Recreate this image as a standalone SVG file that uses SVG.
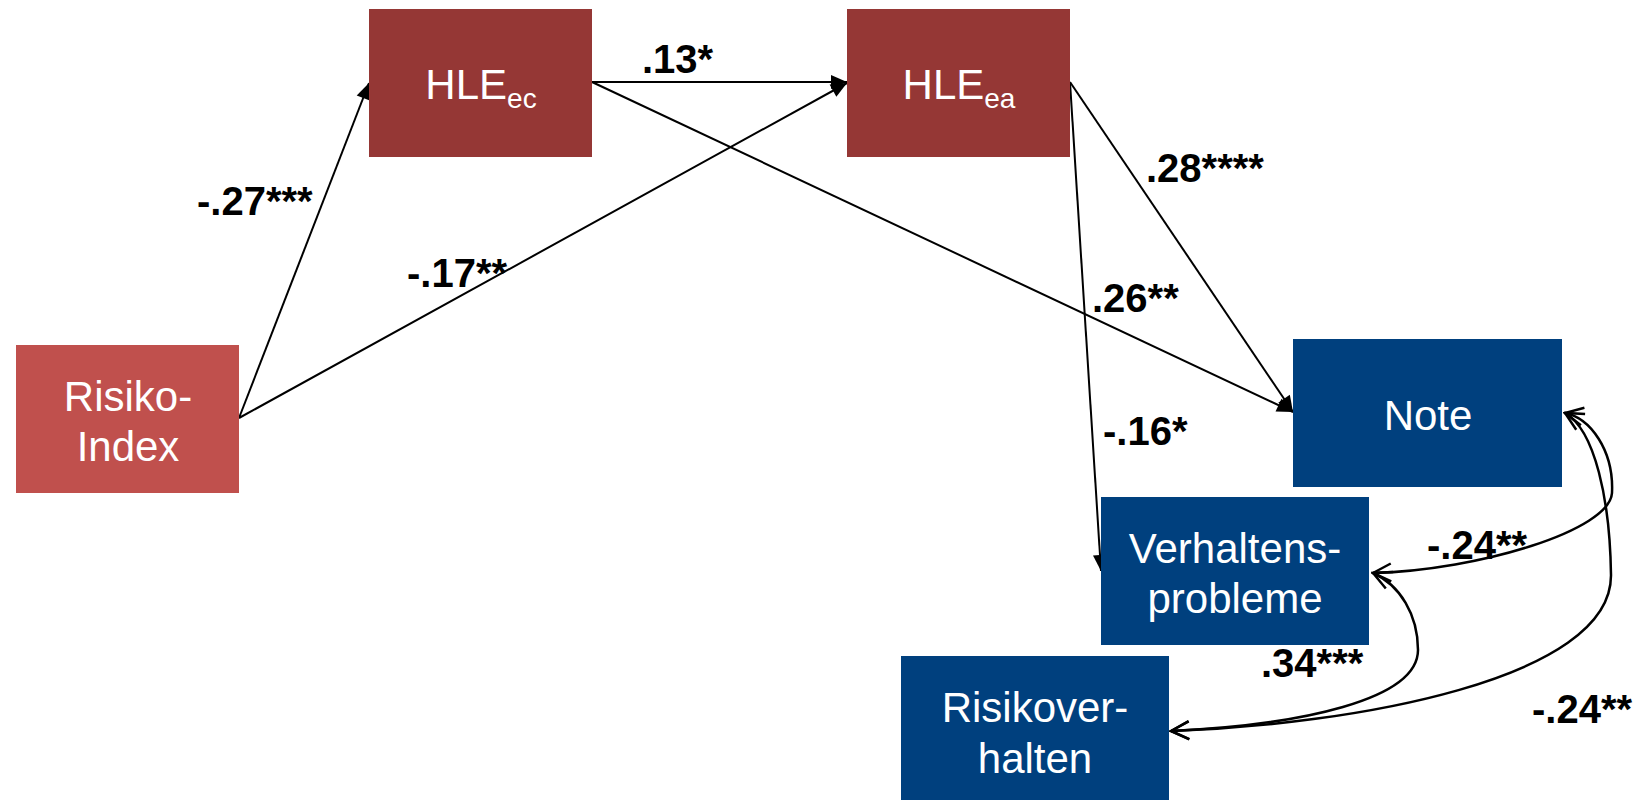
<svg xmlns="http://www.w3.org/2000/svg" width="1641" height="800" viewBox="0 0 1641 800">
<style>
.node text{font-family:"Liberation Sans",Arial,sans-serif;font-size:42px;fill:#fff;text-anchor:middle}
.sub{font-size:28px}
.red{fill:#953735}
.light{fill:#C0504D}
.blue{fill:#00407E}
.lab{font-family:"Liberation Sans",Arial,sans-serif;font-size:40px;font-weight:bold;fill:#000}
.line{stroke:#000;stroke-width:2;fill:none;marker-end:url(#fa)}
.curve{stroke:#000;stroke-width:2.5;fill:none;marker-start:url(#oa);marker-end:url(#oa)}
</style>
<defs>
<marker id="fa" markerUnits="userSpaceOnUse" viewBox="-18 -9 20 18" refX="0" refY="0" markerWidth="20" markerHeight="18" orient="auto">
<path d="M-16,-7 L0,0 L-16,7 Z" fill="#000"/>
</marker>
<marker id="oa" markerUnits="userSpaceOnUse" viewBox="-22 -12 24 24" refX="0" refY="0" markerWidth="24" markerHeight="24" orient="auto-start-reverse">
<path d="M-18,-9 L0,0 L-18,9" fill="none" stroke="#000" stroke-width="2.5"/>
</marker>
</defs>
<rect width="1641" height="800" fill="#fff"/>
<g id="connectors">
<path class="line" d="M239,418 L369,83"/>
<path class="line" d="M239,418 L847,83"/>
<path class="line" d="M592,82 L847,82"/>
<path class="line" d="M592,82 L1293,412"/>
<path class="line" d="M1070,82 L1293,412"/>
<path class="line" d="M1070,82 L1101,571"/>
<path class="curve" d="M1565,413 C1590,418 1614,450 1612,493 C1610,530 1480,570 1373,573"/>
<path class="curve" d="M1565,413 C1595,430 1610,500 1611,575 C1612,680 1350,725 1171,731"/>
<path class="curve" d="M1373,573 C1400,585 1418,615 1418,650 C1418,700 1300,725 1171,731"/>
</g>
<g id="risiko-index" class="node">
<rect class="light" x="16" y="345" width="223" height="148"/>
<text x="128" y="411">Risiko-</text>
<text x="128" y="461">Index</text>
</g>
<g id="hle-ec" class="node">
<rect class="red" x="369" y="9" width="223" height="148"/>
<text x="481" y="99">HLE<tspan class="sub" dy="9">ec</tspan></text>
</g>
<g id="hle-ea" class="node">
<rect class="red" x="847" y="9" width="223" height="148"/>
<text x="959" y="99">HLE<tspan class="sub" dy="9">ea</tspan></text>
</g>
<g id="note" class="node">
<rect class="blue" x="1293" y="339" width="269" height="148"/>
<text x="1428" y="430">Note</text>
</g>
<g id="verhaltensprobleme" class="node">
<rect class="blue" x="1101" y="497" width="268" height="148"/>
<text x="1235" y="563">Verhaltens-</text>
<text x="1235" y="613">probleme</text>
</g>
<g id="risikoverhalten" class="node">
<rect class="blue" x="901" y="656" width="268" height="148"/>
<text x="1035" y="722">Risikover-</text>
<text x="1035" y="773">halten</text>
</g>
<g id="labels">
<text class="lab" x="642" y="73">.13*</text>
<text class="lab" x="197" y="215">-.27***</text>
<text class="lab" x="407" y="287">-.17**</text>
<text class="lab" x="1146" y="182">.28****</text>
<text class="lab" x="1092" y="312">.26**</text>
<text class="lab" x="1103" y="445">-.16*</text>
<text class="lab" x="1427" y="559">-.24**</text>
<text class="lab" x="1261" y="677">.34***</text>
<text class="lab" x="1532" y="723">-.24**</text>
</g>
</svg>
